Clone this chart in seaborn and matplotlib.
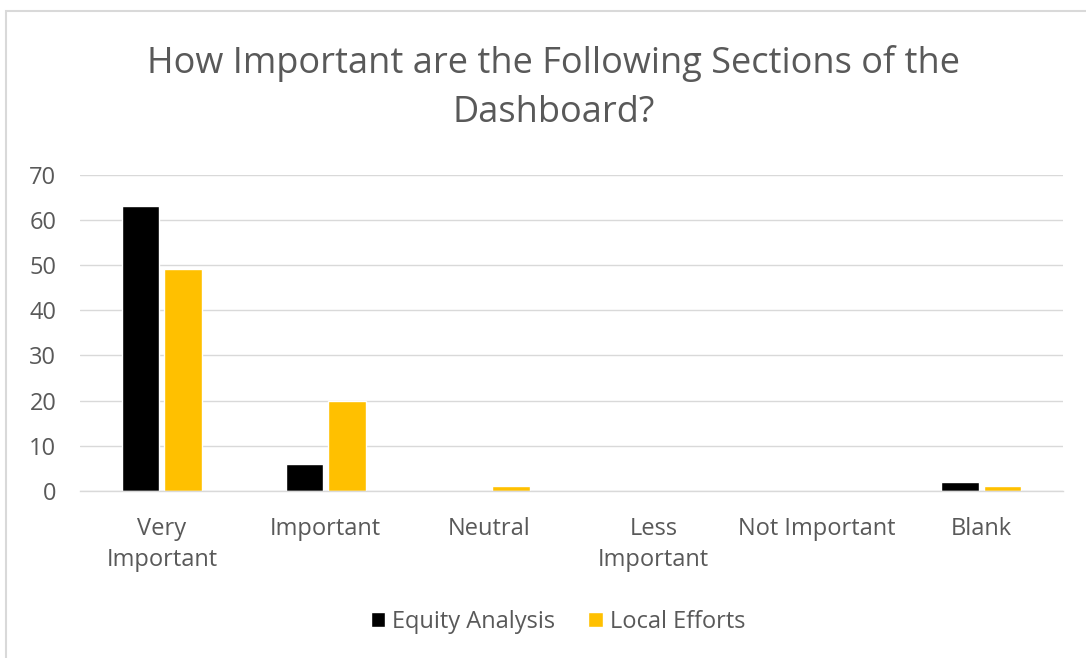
import matplotlib
matplotlib.use("Agg")
import matplotlib.pyplot as plt
import seaborn as sns
import pandas as pd
from matplotlib.patches import Rectangle

categories = ["Very\nImportant", "Important", "Neutral", "Less\nImportant", "Not Important", "Blank"]
series_names = ["Equity Analysis", "Local Efforts"]
equity_values = [63, 6, 0, 0, 0, 2]
local_values = [49, 20, 1, 0, 0, 1]
colors = ["#000000", "#FFC000"]
yticks = [0, 10, 20, 30, 40, 50, 60, 70]

sns.set_theme(style="white")
plt.rcParams["font.family"] = ["Open Sans", "DejaVu Sans"]
txt = "#595959"
grid = "#D9D9D9"

df = pd.DataFrame({
    "category": categories * 2,
    "series": [series_names[0]] * len(categories) + [series_names[1]] * len(categories),
    "value": equity_values + local_values,
})

fig = plt.figure(figsize=(10.86, 6.58), dpi=100)
ax = fig.add_axes([80 / 1086, 1 - 491 / 658, (1063 - 80) / 1086, (491 - 174.5) / 658])

sns.barplot(data=df, x="category", y="value", hue="series", order=categories,
            hue_order=series_names, palette=colors, width=0.52, gap=0.12,
            saturation=1, ax=ax, legend=True)

ax.set_ylim(0, 70)
ax.set_yticks(yticks)
ax.set_xlim(-0.5, len(categories) - 0.5)
ax.yaxis.grid(True, color=grid, linewidth=1)
ax.set_axisbelow(True)
for s in ["left", "right", "top"]:
    ax.spines[s].set_visible(False)
ax.spines["bottom"].set_color(grid)
ax.spines["bottom"].set_linewidth(1)
ax.set_xlabel("")
ax.set_ylabel("")
ax.tick_params(axis="y", length=0, pad=17, labelsize=17, labelcolor=txt)
ax.tick_params(axis="x", length=0, pad=19, labelsize=17, labelcolor=txt)
for lab in ax.get_xticklabels():
    lab.set_linespacing(1.35)

leg = ax.legend(loc="center", bbox_to_anchor=(558 / 1086, 1 - 622 / 658),
                bbox_transform=fig.transFigure, ncol=2, frameon=False,
                fontsize=17, handlelength=0.6, handleheight=0.6,
                handletextpad=0.3, columnspacing=1.4, labelcolor=txt)

fig.text(553.5 / 1086, 1 - 63 / 658, "How Important are the Following Sections of the",
         ha="center", va="center", fontsize=26, color=txt)
fig.text(553.5 / 1086, 1 - 113 / 658, "Dashboard?",
         ha="center", va="center", fontsize=26, color=txt)

fig.patches.append(Rectangle((6 / 1086, -0.1), 1.2, 1 - 11 / 658 + 0.1,
                             transform=fig.transFigure, fill=False,
                             edgecolor="#D9D9D9", linewidth=1.5))

fig.savefig("out.png", dpi=100, facecolor="white")
